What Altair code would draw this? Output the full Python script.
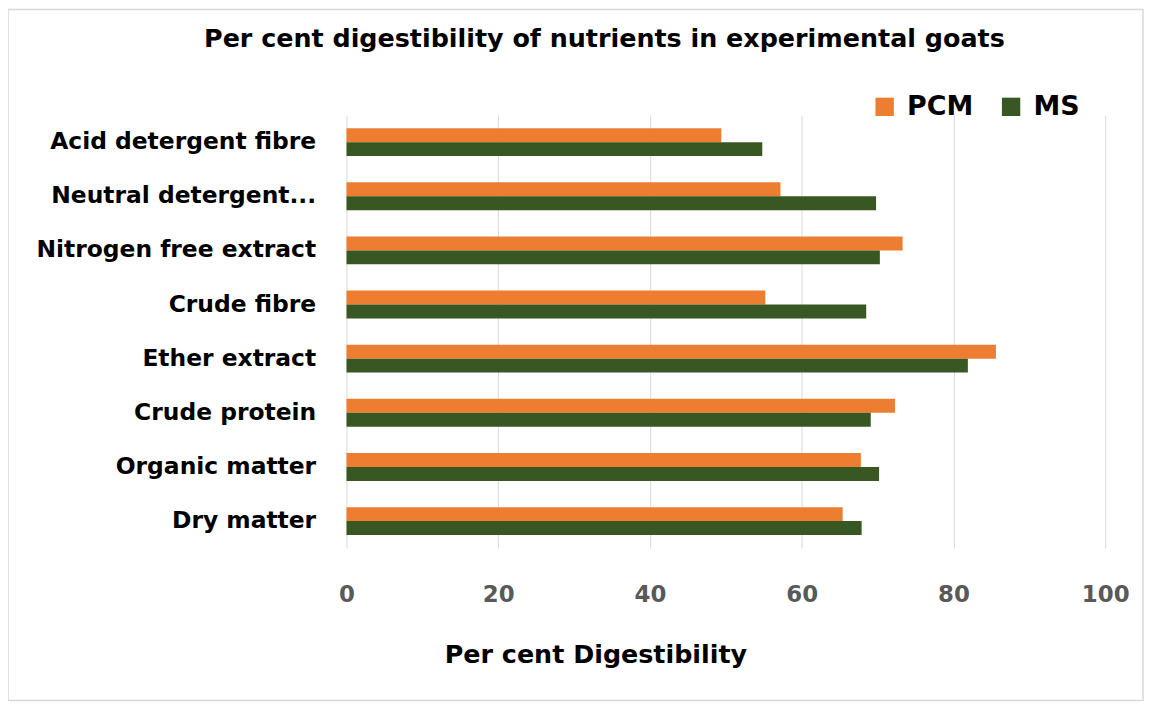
import altair as alt
import pandas as pd

categories = ["Acid detergent fibre", "Neutral detergent...", "Nitrogen free extract",
              "Crude fibre", "Ether extract", "Crude protein", "Organic matter", "Dry matter"]
pcm = [49.4, 57.2, 73.3, 55.2, 85.6, 72.3, 67.8, 65.4]
ms = [54.8, 69.8, 70.3, 68.5, 81.9, 69.1, 70.2, 67.9]
series = ["PCM", "MS"]
colors = ["#ED7D31", "#385723"]

rows = []
for c, a, b in zip(categories, pcm, ms):
    rows.append({"Nutrient": c, "Series": "PCM", "Value": a})
    rows.append({"Nutrient": c, "Series": "MS", "Value": b})
df = pd.DataFrame(rows)

W, H = 762, 435
FONT = "DejaVu Sans"

bars = alt.Chart(df).mark_bar(size=14).encode(
    x=alt.X("Value:Q", scale=alt.Scale(domain=[0, 100]),
            axis=alt.Axis(values=[0, 20, 40, 60, 80, 100], title="Per cent Digestibility",
                          grid=True, gridColor="#d9d9d9", domain=False, ticks=False,
                          labelFontSize=23, labelColor="#595959", labelFontWeight="bold",
                          labelPadding=36, labelFlush=False,
                          titleFontSize=25.5, titleFontWeight="bold",
                          titleColor="#000000", titlePadding=36, titleX=250,
                          titleAlign="center", labelFont=FONT, titleFont=FONT)),
    y=alt.Y("Nutrient:N", sort=categories,
            scale=alt.Scale(paddingInner=0.485, paddingOuter=0.2425),
            axis=alt.Axis(title=None, domain=False, ticks=False, labelFontSize=23.5,
                          labelFontWeight="bold", labelColor="#000000", labelPadding=31,
                          labelLimit=400, labelFont=FONT)),
    yOffset=alt.YOffset("Series:N", sort=series),
    color=alt.Color("Series:N", sort=series,
                    scale=alt.Scale(domain=series, range=colors),
                    legend=alt.Legend(title=None, orient="none", direction="horizontal",
                                      legendX=527, legendY=-22, symbolType="square",
                                      symbolSize=340, labelFontSize=27, labelColor="#000000",
                                      labelFont=FONT, labelFontWeight="bold",
                                      columnPadding=24, labelOffset=9, symbolStrokeWidth=0)),
)

frame = alt.Chart(pd.DataFrame({"k": [0]})).mark_rect(
    fill=None, stroke="#d9d9d9", strokeWidth=1.5
).encode(
    x=alt.value(-340), x2=alt.value(800), y=alt.value(-106), y2=alt.value(588)
)

chart = alt.layer(frame, bars).properties(
    width=W, height=H,
    title=alt.TitleParams("Per cent digestibility of nutrients in experimental goats",
                          fontSize=25.5, fontWeight="bold", font=FONT, color="#000000",
                          dx=-122, offset=-44),
    autosize=alt.AutoSizeParams(type="none"),
    padding={"left": 340, "top": 106, "right": 40, "bottom": 155},
).configure(background="white").configure_view(stroke=None)

chart.save("out.html", embed_options={"renderer": "svg", "actions": False})
